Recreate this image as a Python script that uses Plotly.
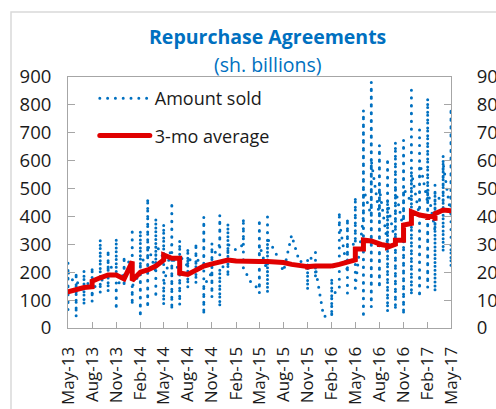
import plotly.graph_objects as go

# ---- data ----
month_starts = [
    "2013-05-01", "2013-06-01", "2013-07-01", "2013-08-01", "2013-09-01", "2013-10-01", "2013-11-01", "2013-12-01",
    "2014-01-01", "2014-02-01", "2014-03-01", "2014-04-01", "2014-05-01", "2014-06-01", "2014-07-01", "2014-08-01",
    "2014-09-01", "2014-10-01", "2014-11-01", "2014-12-01", "2015-01-01", "2015-02-01", "2015-03-01", "2015-04-01",
    "2015-05-01", "2015-06-01", "2015-07-01", "2015-08-01", "2015-09-01", "2015-10-01", "2015-11-01", "2015-12-01",
    "2016-01-01", "2016-02-01", "2016-03-01", "2016-04-01", "2016-05-01", "2016-06-01", "2016-07-01", "2016-08-01",
    "2016-09-01", "2016-10-01", "2016-11-01", "2016-12-01", "2017-01-01", "2017-02-01", "2017-03-01", "2017-04-01",
    "2017-05-01",
]

# Amount sold: operations within each month (sh. billions)
amount_sold = [
    [120, 233, 65, 180, 100, 200],
    [150, 40, 200, 90, 170],
    [130, 208, 82, 160],
    [160, 94, 219, 120],
    [200, 319, 125, 260, 170],
    [180, 280, 129, 230],
    [200, 322, 65, 250, 140],
    [200, 258, 147, 220],
    [250, 358, 82, 300, 150],
    [200, 351, 39, 280, 120, 240],
    [250, 466, 72, 380, 160, 300],
    [200, 394, 108, 300],
    [250, 373, 82, 320, 150],
    [300, 452, 65, 380, 120, 260],
    [200, 315, 82, 260],
    [220, 287, 143, 250],
    [230, 305, 159, 240],
    [250, 398, 47, 330, 150],
    [200, 305, 110, 250],
    [300, 405, 75, 350, 200],
    [250, 376, 183, 300],
    [280],
    [300, 394, 215],
    [160],
    [140, 390, 125, 300],
    [200, 398, 125, 320],
    [273],
    [202],
    [333],
    [237],
    [245, 136, 233],
    [272, 180, 215],
    [41],
    [45, 180, 41, 120],
    [136, 416, 200, 380],
    [200, 394, 125, 300],
    [300, 470, 129, 400, 200, 350, 150],
    [400, 781, 36, 700, 100, 600, 200, 740, 80, 500],
    [400, 882, 75, 800, 150, 700, 250, 830, 120, 600],
    [400, 656, 143, 600, 200, 620, 170, 500],
    [300, 609, 57, 550, 100, 580, 80, 450],
    [300, 667, 65, 600, 120, 640, 90, 500],
    [350, 674, 47, 620, 100, 650, 70, 500],
    [450, 853, 118, 780, 200, 650, 160, 560],
    [400, 710, 110, 650, 200, 600],
    [450, 824, 145, 750, 250, 600, 180, 500],
    [350, 513, 130, 450, 200, 480],
    [450, 620, 272, 550, 350, 590],
    [400, 789, 219, 700, 300],
]

# 3-month moving average, values falling within each month
avg_3mo = [
    [130], [140], [145], [148, 168], [180], [190], [190], [176],
    [238, 170], [200], [208], [222], [244, 262], [250], [250, 197], [192],
    [205], [222], [230], [238], [244], [240], [238], [238],
    [238], [238], [238], [235], [228], [222], [220, 210, 220], [222],
    [222], [222, 215, 222], [228], [238], [244, 283], [283, 315], [312], [302, 290, 300],
    [295, 290], [300, 315], [315, 369], [375, 417], [405], [400, 387, 400], [400, 385, 410], [423],
    [420],
]

tick_dates = ["2013-05-01", "2013-08-01", "2013-11-01", "2014-02-01", "2014-05-01", "2014-08-01",
              "2014-11-01", "2015-02-01", "2015-05-01", "2015-08-01", "2015-11-01", "2016-02-01",
              "2016-05-01", "2016-08-01", "2016-11-01", "2017-02-01", "2017-05-01"]
tick_labels = ["May-13", "Aug-13", "Nov-13", "Feb-14", "May-14", "Aug-14", "Nov-14", "Feb-15",
               "May-15", "Aug-15", "Nov-15", "Feb-16", "May-16", "Aug-16", "Nov-16", "Feb-17", "May-17"]
y_ticks = [0, 100, 200, 300, 400, 500, 600, 700, 800, 900]

# ---- build flat series (many operations plotted at the same month position) ----
amt_x, amt_y = [], []
for d, vals in zip(month_starts, amount_sold):
    amt_x += [d] * len(vals)
    amt_y += vals
avg_x, avg_y = [], []
for d, vals in zip(month_starts, avg_3mo):
    avg_x += [d] * len(vals)
    avg_y += vals

BLUE = "#0070C0"
RED = "#E00000"
AXIS = "#A6A6A6"
FONT = "Open Sans, Noto Sans, sans-serif"

fig = go.Figure()
fig.add_trace(go.Scatter(
    x=amt_x, y=amt_y, mode="lines", name="Amount sold", legendgroup="a",
    line=dict(color=BLUE, width=3, dash="0px,7.8px"), yaxis="y",
))
fig.add_trace(go.Scatter(
    x=avg_x, y=avg_y, mode="lines", name="3-mo average", legendgroup="b",
    line=dict(color=RED, width=5), yaxis="y2",
))

fig.update_layout(
    width=496, height=409,
    margin=dict(l=68, r=45, t=77, b=81),
    paper_bgcolor="white", plot_bgcolor="white",
    font=dict(family=FONT, size=18, color="#1a1a1a"),
    showlegend=True,
    legend=dict(x=0.07, y=0.988, xanchor="left", yanchor="top",
                bgcolor="rgba(0,0,0,0)", borderwidth=0, tracegroupgap=11,
                itemwidth=50, font=dict(size=18, family=FONT)),
    xaxis=dict(
        type="date", range=["2013-05-01", "2017-05-01"],
        tickvals=tick_dates, ticktext=tick_labels, tickangle=-90,
        ticks="inside", ticklen=6, tickcolor=AXIS,
        showline=True, linecolor=AXIS, linewidth=1, mirror=True,
        showgrid=False, zeroline=False, ticklabelstandoff=11, automargin=False,
        tickfont=dict(size=17),
    ),
    yaxis=dict(
        range=[0, 900], tickvals=y_ticks, ticks="inside", ticklen=7, tickcolor=AXIS,
        showline=True, linecolor=AXIS, linewidth=1, showgrid=False, zeroline=False,
        ticklabelstandoff=12, tickfont=dict(size=18.5), automargin=False,
    ),
    yaxis2=dict(
        range=[0, 900], tickvals=y_ticks, overlaying="y", side="right",
        ticks="inside", ticklen=7, tickcolor=AXIS,
        showline=True, linecolor=AXIS, linewidth=1, showgrid=False, zeroline=False,
        ticklabelstandoff=21, tickfont=dict(size=18.5), automargin=False,
    ),
    annotations=[
        dict(text="<b>Repurchase Agreements</b>", xref="paper", yref="paper",
             x=0.522, y=1.162, xanchor="center", yanchor="middle", showarrow=False,
             font=dict(size=19.5, color=BLUE, family=FONT)),
        dict(text="(sh. billions)", xref="paper", yref="paper",
             x=0.522, y=1.05, xanchor="center", yanchor="middle", showarrow=False,
             font=dict(size=19.5, color=BLUE, family=FONT)),
    ],
    shapes=[
        dict(type="rect", xref="paper", yref="paper", x0=-0.1488, y0=-0.6, x1=1.3, y1=1.259,
             line=dict(color="#D9D9D9", width=1.5), fillcolor="rgba(0,0,0,0)", layer="below"),
    ],
)

post = (
    "document.body.style.margin='0px';"
    "document.querySelectorAll('.js-line').forEach(function(p){p.style.strokeLinecap='round';});"
)
fig.write_html("out.html", post_script=post, config={"displayModeBar": False})
